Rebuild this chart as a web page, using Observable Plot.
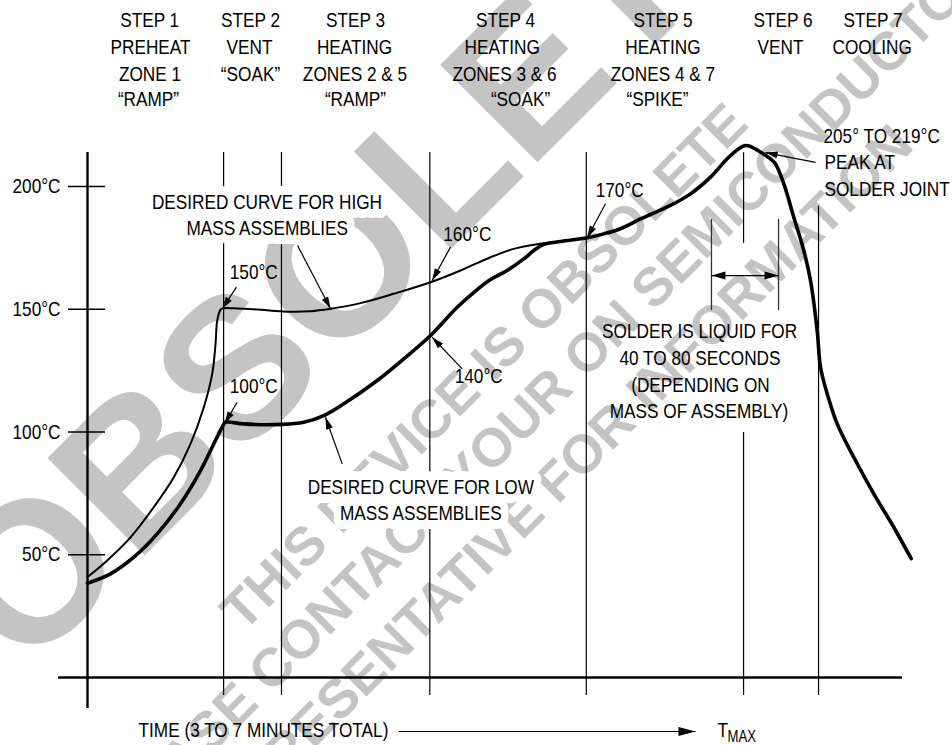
<!DOCTYPE html>
<html><head><meta charset="utf-8">
<script src="https://cdn.jsdelivr.net/npm/d3@7"></script>
<script src="https://cdn.jsdelivr.net/npm/@observablehq/plot@0.6"></script>
<style>html,body{margin:0;padding:0;background:#fff;}</style>
</head><body><div id="chart"></div>
<script>
// ---------- data (time in arbitrary units 0–100, temperature in °C) ----------
const highMassTime = [0,2.42,5.28,8.13,10.59,12.64,14.27,15.30,15.71,15.92,16.32,16.72,17.95,20.82,23.89,27.36,29.82,33.5,37.58,42.09,45.77,49.45,52.3,55.58,58.44,61.31];
const highMassTemp = [40.9,47.7,57.1,69.4,81.6,95.2,110.1,123.7,135.9,145.4,149.8,150.4,150.4,149.9,149.1,149.2,150.2,152.5,156.3,161.0,165.8,171.2,174.6,176.7,177.7,179.1];
const lowMassTime = [0,2.82,5.68,8.55,11.41,13.87,15.5,16.53,16.93,17.55,19.18,23.89,26.54,29.0,31.45,35.55,38.81,42.09,45.36,47.82,49.45,51.5,53.53,54.76,55.99,58.04,61.31,63.35,65.4,67.85,69.08,71.53,73.99,76.44,78.49,79.91,80.74,81.35,82.58,83.8,84.42,85.44,86.66,87.89,88.71,89.53,89.94,90.76,91.99,94.02,96.48,98.93,101.07];
const lowMassTemp = [38.4,42.2,49.0,58.5,70.8,84.3,95.2,102.0,104.0,104.0,103.3,103.1,104.0,106.7,111.5,121.0,129.8,139.3,150.8,158.0,162.1,165.8,170.5,173.9,176.4,177.6,179.1,180.7,182.8,186.8,188.6,192.3,197.0,203.8,211.3,215.4,216.7,216.3,214.0,211.3,209.2,201.1,187.5,173.9,161.7,141.3,126.4,115.6,103.3,89.7,74.8,61.2,48.4];

const yTicks = [50, 100, 150, 200];
const yTickLabels = ["50°C", "100°C", "150°C", "200°C"];

// step boundary lines: time, lower and upper temperature extent
const stepLines = [
  {t: 16.7, lo: -7.3, hi: 213.8},
  {t: 23.8, lo: -7.3, hi: 213.8},
  {t: 42.0, lo: -7.3, hi: 213.8},
  {t: 61.2, lo: -7.3, hi: 213.8},
  {t: 80.5, lo: 176.8, hi: 213.8},
  {t: 80.5, lo: -7.3, hi: 99.8},
  {t: 89.7, lo: -7.3, hi: 192.0}
];
const liquidLimits = [{t: 76.56, lo: 149.5, hi: 186.6}, {t: 84.79, lo: 149.5, hi: 186.6}];

const headerLines = [
  {text: "STEP 1", t: 7.63, temp: 264.9}, {text: "PREHEAT", t: 7.73, temp: 254.1}, {text: "ZONE 1", t: 7.67, temp: 242.9}, {text: "“RAMP”", t: 7.48, temp: 232.6},
  {text: "STEP 2", t: 20.0, temp: 264.9}, {text: "VENT", t: 19.88, temp: 254.1}, {text: "“SOAK”", t: 20.0, temp: 242.9},
  {text: "STEP 3", t: 32.88, temp: 264.9}, {text: "HEATING", t: 32.76, temp: 254.1}, {text: "ZONES 2 & 5", t: 32.82, temp: 242.9}, {text: "“RAMP”", t: 32.88, temp: 232.6},
  {text: "STEP 4", t: 51.29, temp: 264.9}, {text: "HEATING", t: 50.88, temp: 254.1}, {text: "ZONES 3 & 6", t: 51.17, temp: 242.9}, {text: "“SOAK”", t: 53.13, temp: 232.6},
  {text: "STEP 5", t: 70.61, temp: 264.9}, {text: "HEATING", t: 70.61, temp: 254.1}, {text: "ZONES 4 & 7", t: 70.61, temp: 242.9}, {text: "“SPIKE”", t: 69.94, temp: 232.6},
  {text: "STEP 6", t: 85.34, temp: 264.9}, {text: "VENT", t: 85.03, temp: 254.1},
  {text: "STEP 7", t: 96.38, temp: 264.9}, {text: "COOLING", t: 96.28, temp: 254.1}
];

const boxedNotes = [
  {text: "DESIRED CURVE FOR HIGH", t: 22.02, temp: 191.0},
  {text: "MASS ASSEMBLIES", t: 22.05, temp: 180.4},
  {text: "DESIRED CURVE FOR LOW", t: 40.9, temp: 74.9},
  {text: "MASS ASSEMBLIES", t: 40.9, temp: 64.0}
];
const centerNotes = [
  {text: "150°C", t: 20.4, temp: 162.5},
  {text: "100°C", t: 20.4, temp: 115.7},
  {text: "160°C", t: 46.6, temp: 178.0},
  {text: "140°C", t: 48.0, temp: 119.8},
  {text: "170°C", t: 65.3, temp: 195.9},
  {text: "SOLDER IS LIQUID FOR", t: 75.1, temp: 138.1},
  {text: "40 TO 80 SECONDS", t: 75.15, temp: 127.1},
  {text: "(DEPENDING ON", t: 75.21, temp: 116.3},
  {text: "MASS OF ASSEMBLY)", t: 75.03, temp: 105.5}
];
const leftNotes = [
  {text: "205° TO 219°C", t: 90.3, temp: 217.9},
  {text: "PEAK AT", t: 90.43, temp: 207.3},
  {text: "SOLDER JOINT", t: 90.43, temp: 196.3},
  {text: "TIME (3 TO 7 MINUTES TOTAL)", t: 6.26, temp: -24.4},
  {text: "T", t: 77.3, temp: -24.4}
];
const subNotes = [{text: "MAX", t: 78.53, temp: -26.1}];

// leader arrows: tail (x1,y1) -> tip (x2,y2)
const leaders = [
  {x1: 18.28, y1: 158.98, x2: 16.53, y2: 150.18},
  {x1: 18.37, y1: 112.1, x2: 16.81, y2: 103.5},
  {x1: 44.54, y1: 175.29, x2: 42.29, y2: 161.71},
  {x1: 45.97, y1: 125.7, x2: 42.29, y2: 138.6},
  {x1: 63.56, y1: 192.95, x2: 61.31, y2: 179.1},
  {x1: 25.77, y1: 176.0, x2: 29.82, y2: 150.2},
  {x1: 31.25, y1: 87.0, x2: 29.2, y2: 106.0},
  {x1: 89.33, y1: 209.8, x2: 83.19, y2: 213.8}
];
const liquidArrows = [
  {x1: 80.6, y1: 163.7, x2: 76.56, y2: 163.7},
  {x1: 80.6, y1: 163.7, x2: 84.79, y2: 163.7}
];
const timeArrow = [{x1: 38.16, y1: -22.0, x2: 74.6, y2: -22.0}];

// watermark
const watermarkWord = [{text: "OBSOLETE", t: -13.2, temp: 19.6}];
const watermarkLines = [
  {text: "THIS DEVICE IS OBSOLETE", t: 48.71, temp: 126.3},
  {text: "PLEASE CONTACT YOUR ON SEMICONDUCTOR", t: 55.37, temp: 112.1},
  {text: "REPRESENTATIVE FOR INFORMATION", t: 56.63, temp: 76.6}
];

// ---------- chart ----------
const X = {domain: [0, 100], range: [87, 902]};
const Y = {domain: [0, 200], range: [677, 186]};
const sx = Plot.scale({x: X}), sy = Plot.scale({y: Y});
const heads = list => list.map(a => {
  const dx = sx.apply(a.x2) - sx.apply(a.x1), dy = sy.apply(a.y2) - sy.apply(a.y1);
  return {x: a.x2, y: a.y2, angle: Math.atan2(dx, -dy) * 180 / Math.PI};
});
const high = highMassTime.map((t, i) => ({t, temp: highMassTemp[i]}));
const low = lowMassTime.map((t, i) => ({t, temp: lowMassTemp[i]}));
const ticks = yTicks.map((v, i) => ({v, label: yTickLabels[i]}));

const font = "'Liberation Sans', Arial, sans-serif";
const gray = "#c4c4c4";

const chart = Plot.plot({
  width: 952, height: 745, margin: 0,
  x: {...X, axis: null},
  y: {...Y, axis: null},
  style: {fontFamily: font, fontSize: "21px", background: "white", color: "black"},
  marks: [
    Plot.text(watermarkWord, {x: "t", y: "temp", text: "text", rotate: -45, textAnchor: "start", fontSize: 200, fontWeight: "bold", fill: gray}),
    Plot.text(watermarkLines, {x: "t", y: "temp", text: "text", rotate: -45, fontSize: 54, fontWeight: "bold", fill: gray}),
    Plot.ruleX(stepLines, {x: "t", y1: "lo", y2: "hi", strokeWidth: 1.2}),
    Plot.ruleX(liquidLimits, {x: "t", y1: "lo", y2: "hi", strokeWidth: 1.3, stroke: "#333"}),
    Plot.ruleX([0], {y1: -12.6, y2: 213.8, strokeWidth: 2.4}),
    Plot.ruleY([0], {x1: -3.56, x2: 100, strokeWidth: 2.4}),
    Plot.ruleY(ticks, {y: "v", x1: -2.33, x2: 2.21, strokeWidth: 1.3}),
    Plot.text(ticks, {x: -3.31, y: "v", text: "label", textAnchor: "end", lineAnchor: "middle"}),
    Plot.text(headerLines, {x: "t", y: "temp", text: "text", lineAnchor: "bottom"}),
    Plot.text(boxedNotes, {x: "t", y: "temp", text: "text", lineAnchor: "bottom", stroke: "white", strokeWidth: 18, paintOrder: "stroke", fill: "black"}),
    Plot.text(centerNotes, {x: "t", y: "temp", text: "text", lineAnchor: "bottom"}),
    Plot.text(leftNotes, {x: "t", y: "temp", text: "text", lineAnchor: "bottom", textAnchor: "start"}),
    Plot.text(subNotes, {x: "t", y: "temp", text: "text", lineAnchor: "bottom", textAnchor: "start", fontSize: 16}),
    Plot.line(high, {x: "t", y: "temp", curve: "catmull-rom", strokeWidth: 2, stroke: "black"}),
    Plot.line(low, {x: "t", y: "temp", curve: "catmull-rom", strokeWidth: 3.6, stroke: "black", strokeLinejoin: "round"}),
    Plot.link(leaders, {x1: "x1", y1: "y1", x2: "x2", y2: "y2", strokeWidth: 1.2, stroke: "black"}),
    Plot.vector(heads(leaders), {x: "x", y: "y", rotate: "angle", length: 12, r: 3.5, shape: "spike", anchor: "end", fill: "black", stroke: "none"}),
    Plot.link(liquidArrows, {x1: "x1", y1: "y1", x2: "x2", y2: "y2", strokeWidth: 1.3, stroke: "black"}),
    Plot.vector(heads(liquidArrows), {x: "x", y: "y", rotate: "angle", length: 14, r: 4, shape: "spike", anchor: "end", fill: "black", stroke: "none"}),
    Plot.link(timeArrow, {x1: "x1", y1: "y1", x2: "x2", y2: "y2", strokeWidth: 1.2, stroke: "black"}),
    Plot.vector(heads(timeArrow), {x: "x", y: "y", rotate: "angle", length: 17, r: 4.5, shape: "spike", anchor: "end", fill: "black", stroke: "none"})
  ]
});

// condense the chart lettering horizontally (the original uses a narrow face)
for (const el of chart.querySelectorAll("text")) {
  const tr = el.getAttribute("transform") || "";
  if (tr.includes("rotate")) continue;
  const x0 = el.hasAttribute("x") ? +el.getAttribute("x") : 0;
  el.setAttribute("transform", `${tr} translate(${x0},0) scale(0.82,1) translate(${-x0},0)`);
}
document.getElementById("chart").appendChild(chart);
</script></body></html>
